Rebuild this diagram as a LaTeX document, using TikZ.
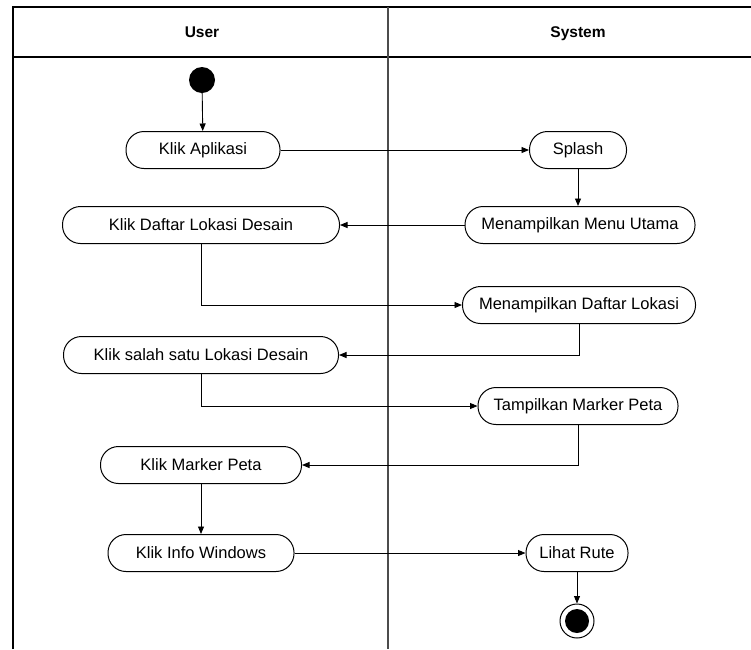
\documentclass[tikz,border=0pt]{standalone}
\usepackage{fontspec}
\setmainfont{Liberation Sans}
\usetikzlibrary{arrows.meta}
\begin{document}
\begin{tikzpicture}[x=1pt,y=-1pt,
  act/.style={draw=black,line width=1pt,rounded corners=18pt,minimum height=37pt,inner sep=0pt,font=\fontsize{16.5}{19}\selectfont,align=center},
  hdr/.style={font=\fontsize{15.5}{18}\selectfont\bfseries,anchor=base},
  flow/.style={draw=black,line width=0.9pt,-{Triangle[length=7.5pt,width=6pt]}},
  frame/.style={draw=black,line width=1.3pt},
  lane/.style={draw=black!70,line width=1.8pt}]
\useasboundingbox (0,0) rectangle (751,649);
% frame
\draw[frame] (13,649) -- (13,7) -- (751,7);
\draw[frame] (13,57) -- (751,57);
\draw[lane] (388,7) -- (388,649);
\node[hdr] (huser) at (202,37.5) {User};
\node[hdr] (hsys) at (578,37.5) {System};
% nodes
\node[circle,fill=black,minimum size=26pt,inner sep=0pt] (start) at (202,80) {};
\node[act,minimum width=154pt] (klikapl) at (203,150) {Klik Aplikasi};
\node[act,minimum width=97pt] (splash) at (578,150) {Splash};
\node[act,minimum width=230pt] (menu) at (580,225) {Menampilkan Menu Utama};
\node[act,minimum width=277pt] (daftar) at (201,225) {Klik Daftar Lokasi Desain};
\node[act,minimum width=233pt] (lokasi) at (579,305) {Menampilkan Daftar Lokasi};
\node[act,minimum width=275pt] (salah) at (201,355) {Klik salah satu Lokasi Desain};
\node[act,minimum width=200pt] (marker) at (578,406) {Tampilkan Marker Peta};
\node[act,minimum width=201pt] (klikmarker) at (201,465) {Klik Marker Peta};
\node[act,minimum width=186pt] (info) at (201,553) {Klik Info Windows};
\node[act,minimum width=102pt] (rute) at (577,553) {Lihat Rute};
\node[circle,draw=black,line width=1pt,minimum size=34pt,inner sep=0pt] (end) at (577,621) {};
\node[circle,fill=black,minimum size=24pt,inner sep=0pt] (endin) at (end.center) {};
% connectors
\draw[flow] (start) -- (klikapl);
\draw[flow] (klikapl) -- (splash);
\draw[flow] (splash.south) -- (splash.south |- menu.north);
\draw[flow] (menu) -- (daftar);
\draw[flow] (daftar.south) |- (lokasi.west);
\draw[flow] (lokasi.south) |- (salah.east);
\draw[flow] (salah.south) |- (marker.west);
\draw[flow] (marker.south) |- (klikmarker.east);
\draw[flow] (klikmarker) -- (info);
\draw[flow] (info) -- (rute);
\draw[flow] (rute) -- (end);
\end{tikzpicture}
\end{document}
